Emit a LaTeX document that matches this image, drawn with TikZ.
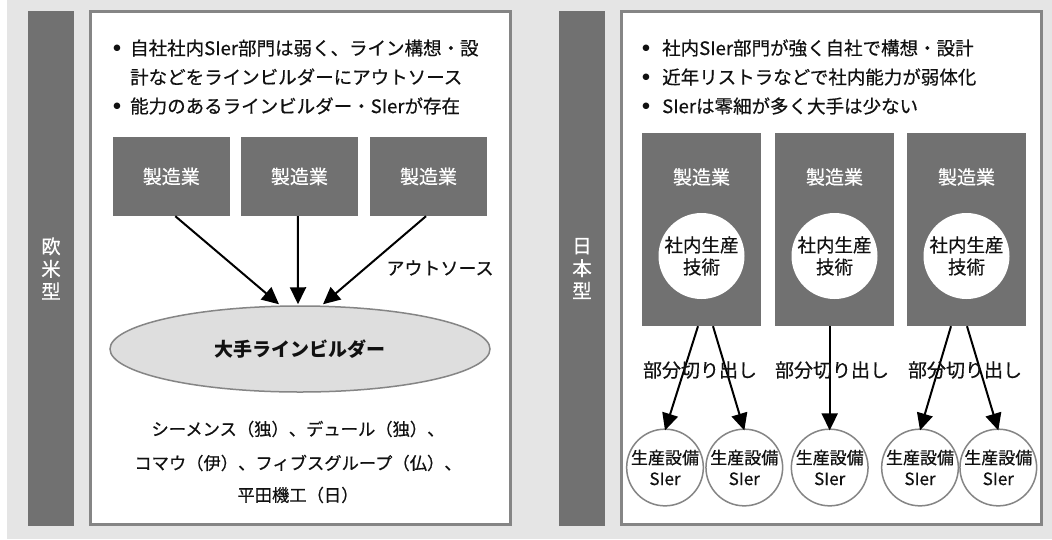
\documentclass[tikz,border=0pt]{standalone}
\usepackage{fontspec}
\setmainfont{Noto Sans CJK JP}[UprightFeatures={RawFeature={embolden=0.5}}]
\newfontfamily\bulletfont{DejaVu Sans}
\usetikzlibrary{arrows.meta,shapes.geometric}
\definecolor{bggray}{HTML}{E5E5E5}
\definecolor{darkbox}{HTML}{717171}
\definecolor{framegray}{HTML}{858585}
\definecolor{ellfill}{HTML}{DEDEDE}
\definecolor{txt}{HTML}{111111}
\begin{document}
\begin{tikzpicture}[x=1pt,y=-1pt,
  frame/.style={draw=framegray, line width=2.5pt, fill=white},
  sidebar/.style={fill=darkbox, draw=none, minimum width=46pt, minimum height=515pt, inner sep=0pt, text=white, align=center, font=\fontsize{19.5}{22.5}\selectfont},
  bullettext/.style={anchor=west, inner sep=0pt, text=txt, font=\fontsize{18.5}{22}\selectfont},
  bulletdot/.style={inner sep=0pt, text=txt, font=\bulletfont\fontsize{8.5}{10}\selectfont},
  mfgbox/.style={fill=darkbox, draw=none, inner sep=0pt},
  mfgtext/.style={text=white, inner sep=0pt, font=\fontsize{19}{22}\selectfont},
  incircle/.style={circle, fill=white, draw=none, minimum size=86pt, inner sep=0pt, align=center, text=txt, font=\fontsize{18.5}{22}\selectfont},
  sicircle/.style={circle, fill=white, draw=framegray, line width=1.5pt, minimum size=75pt, inner sep=0pt, align=center, text=txt, font=\fontsize{17}{21}\selectfont},
  bigell/.style={ellipse, fill=ellfill, draw=framegray, line width=1.5pt, minimum width=380pt, minimum height=86pt, inner sep=0pt, text=txt, font=\bfseries\fontsize{19}{22}\selectfont},
  plain/.style={inner sep=0pt, text=txt},
  arr/.style={line width=2pt, draw=black, -{Triangle[length=17pt,width=16pt]}}
]
\useasboundingbox (0,0) rectangle (1052,539);
\fill[white] (0,0) rectangle (1052,539);
\fill[bggray] (7,0) rectangle (1052,539);

% ---------- left panel ----------
\node[sidebar] (barL) at (51,268.5) {欧\\米\\型};
\draw[frame] (90.5,11.3) rectangle (510.5,524.5);

\node[bulletdot] (bl1) at (117,48) {●};
\node[bullettext] (tl1) at (130,48) {自社社内SIer部門は弱く、ライン構想・設};
\node[bullettext] (tl2) at (130,77) {計などをラインビルダーにアウトソース};
\node[bulletdot] (bl3) at (117,106) {●};
\node[bullettext] (tl3) at (130,106) {能力のあるラインビルダー・SIerが存在};

\node[mfgbox, minimum width=117.5pt, minimum height=79pt] (L1) at (171.3,176.5) {};
\node[mfgbox, minimum width=117pt, minimum height=79pt] (L2) at (299.4,176.5) {};
\node[mfgbox, minimum width=117pt, minimum height=79pt] (L3) at (428.5,176.5) {};
\node[mfgtext] at (L1) {製造業};
\node[mfgtext] at (L2) {製造業};
\node[mfgtext] at (L3) {製造業};

\node[bigell] (E) at (300,349) {大手ラインビルダー};

\draw[arr] ([xshift=4pt]L1.south) -- ([xshift=-21pt,yshift=1pt]E.north);
\draw[arr] ([xshift=-1.5pt]L2.south) -- ([xshift=-2pt,yshift=1pt]E.north);
\draw[arr] ([xshift=-2.5pt]L3.south) -- ([xshift=23pt,yshift=1pt]E.north);

\node[plain, font=\fontsize{18}{22}\selectfont] (outs) at (440,268) {アウトソース};

\node[plain, font=\fontsize{17.3}{22}\selectfont] (c1) at (298,429) {シーメンス（独）、デュール（独）、};
\node[plain, font=\fontsize{17.3}{22}\selectfont] (c2) at (298,463) {コマウ（伊）、フィブスグループ（仏）、};
\node[plain, font=\fontsize{17.3}{22}\selectfont] (c3) at (298,495) {平田機工（日）};

% ---------- right panel ----------
\node[sidebar] (barR) at (582,268.5) {日\\本\\型};
\draw[frame] (621.3,11.3) rectangle (1041.5,524.5);

\node[bulletdot] (br1) at (646,48) {●};
\node[bullettext] (tr1) at (662,48) {社内SIer部門が強く自社で構想・設計};
\node[bulletdot] (br2) at (646,77) {●};
\node[bullettext] (tr2) at (662,77) {近年リストラなどで社内能力が弱体化};
\node[bulletdot] (br3) at (646,106) {●};
\node[bullettext] (tr3) at (662,106) {SIerは零細が多く大手は少ない};

\node[mfgbox, minimum width=119pt, minimum height=193pt] (R1) at (701.5,229.5) {};
\node[mfgbox, minimum width=119pt, minimum height=193pt] (R2) at (834.5,229.5) {};
\node[mfgbox, minimum width=119pt, minimum height=193pt] (R3) at (966.5,229.5) {};
\node[mfgtext] at (701.5,177) {製造業};
\node[mfgtext] at (834.5,177) {製造業};
\node[mfgtext] at (966.5,177) {製造業};

\node[incircle] (I1) at (701.5,256) {社内生産\\技術};
\node[incircle] (I2) at (834.5,256) {社内生産\\技術};
\node[incircle] (I3) at (966.5,256) {社内生産\\技術};

\node[sicircle] (S1) at (665,467.5) {生産設備\\SIer};
\node[sicircle] (S2) at (744.3,467.5) {生産設備\\SIer};
\node[sicircle] (S3) at (829.7,467.5) {生産設備\\SIer};
\node[sicircle] (S4) at (920,467.5) {生産設備\\SIer};
\node[sicircle] (S5) at (998.3,467.5) {生産設備\\SIer};

\draw[arr] ([xshift=-3.5pt]R1.south) -- ([yshift=-2pt]S1.north);
\draw[arr] ([xshift=11.5pt]R1.south) -- ([yshift=-2pt]S2.north);
\draw[arr] (R2.south -| S3.north) -- ([yshift=-2pt]S3.north);
\draw[arr] ([xshift=-15.5pt]R3.south) -- ([yshift=-2pt]S4.north);
\draw[arr] ([xshift=0.5pt]R3.south) -- ([yshift=-2pt]S5.north);

\node[plain, font=\fontsize{19}{22}\selectfont] (cut1) at (700,370) {部分切り出し};
\node[plain, font=\fontsize{19}{22}\selectfont] (cut2) at (832,370) {部分切り出し};
\node[plain, font=\fontsize{19}{22}\selectfont] (cut3) at (965,370) {部分切り出し};
\end{tikzpicture}
\end{document}
